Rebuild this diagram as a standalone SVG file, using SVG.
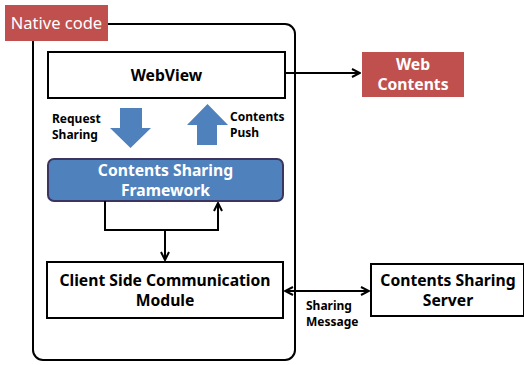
<svg xmlns="http://www.w3.org/2000/svg" width="524" height="365" viewBox="0 0 524 365">
  <style>
    text { font-family: "Noto Sans", "Open Sans", "Liberation Sans", sans-serif; text-anchor: middle; }
    .box { fill: #fff; stroke: #000; stroke-width: 2; }
    .red { fill: #C0504D; }
    .bold { font-weight: bold; font-size: 15.7px; fill: #000; }
    .white { font-weight: bold; font-size: 15.7px; fill: #fff; }
    .small { font-weight: bold; font-size: 12px; fill: #000; text-anchor: start; }
    .line { fill: none; stroke: #000; stroke-width: 2; }
    .blue { fill: #4F81BD; }
  </style>
  <defs>
    <marker id="arrow" viewBox="0 0 10 10" refX="9" refY="5" markerWidth="5" markerHeight="5" orient="auto-start-reverse" markerUnits="strokeWidth">
      <path d="M1,1 L9,5 L1,9" fill="none" stroke="#000" stroke-width="2"/>
    </marker>
  </defs>

  <rect width="524" height="365" fill="#fff"/>

  <!-- native code container -->
  <g id="native">
    <rect x="33" y="24" width="262" height="336" rx="10" class="line"/>
    <rect x="5" y="5" width="103" height="36" class="red"/>
    <text x="56.5" y="29" style="font-size:16.5px;fill:#fff">Native code</text>
  </g>

  <g id="webview">
    <rect x="48" y="52" width="237" height="46" class="box"/>
    <text x="166.5" y="81" class="bold">WebView</text>
  </g>

  <g id="web-contents">
    <rect x="362" y="52" width="102" height="45" class="red"/>
    <text x="413" y="69.5" class="white"><tspan x="413">Web</tspan><tspan x="413" dy="20">Contents</tspan></text>
  </g>

  <g id="request-sharing">
    <polygon points="120,108 142,108 142,128 151,128 130.5,148 110,128 120,128" class="blue"/>
    <text x="52" y="123" class="small"><tspan x="52">Request</tspan><tspan x="52" dy="16">Sharing</tspan></text>
  </g>

  <g id="contents-push">
    <polygon points="207.5,104 228,125 217,125 217,145 197,145 197,125 187,125" class="blue"/>
    <text x="230" y="121" class="small"><tspan x="230">Contents</tspan><tspan x="230" dy="16">Push</tspan></text>
  </g>

  <g id="framework">
    <rect x="48" y="159" width="235" height="42" rx="6" fill="#4F81BD" stroke="#3B3560" stroke-width="2"/>
    <text x="165.5" y="175.5" class="white"><tspan x="165.5">Contents Sharing</tspan><tspan x="165.5" dy="20">Framework</tspan></text>
  </g>

  <g id="client">
    <rect x="47" y="262" width="236" height="56" class="box"/>
    <text x="165" y="286" class="bold"><tspan x="165">Client Side Communication</tspan><tspan x="165" dy="20">Module</tspan></text>
  </g>

  <g id="server">
    <rect x="371" y="264" width="153" height="52" class="box"/>
    <text x="448" y="286" class="bold"><tspan x="448">Contents Sharing</tspan><tspan x="448" dy="20">Server</tspan></text>
  </g>

  <g id="connectors">
    <path d="M285,73 H360" class="line" marker-end="url(#arrow)"/>
    <path d="M105,201 V230 H218 V203" class="line" marker-end="url(#arrow)"/>
    <path d="M165,230 V260" class="line" marker-end="url(#arrow)"/>
    <path d="M285,291 H369" class="line" marker-start="url(#arrow)" marker-end="url(#arrow)"/>
    <text x="306" y="310" class="small"><tspan x="306">Sharing</tspan><tspan x="306" dy="16">Message</tspan></text>
  </g>
</svg>
